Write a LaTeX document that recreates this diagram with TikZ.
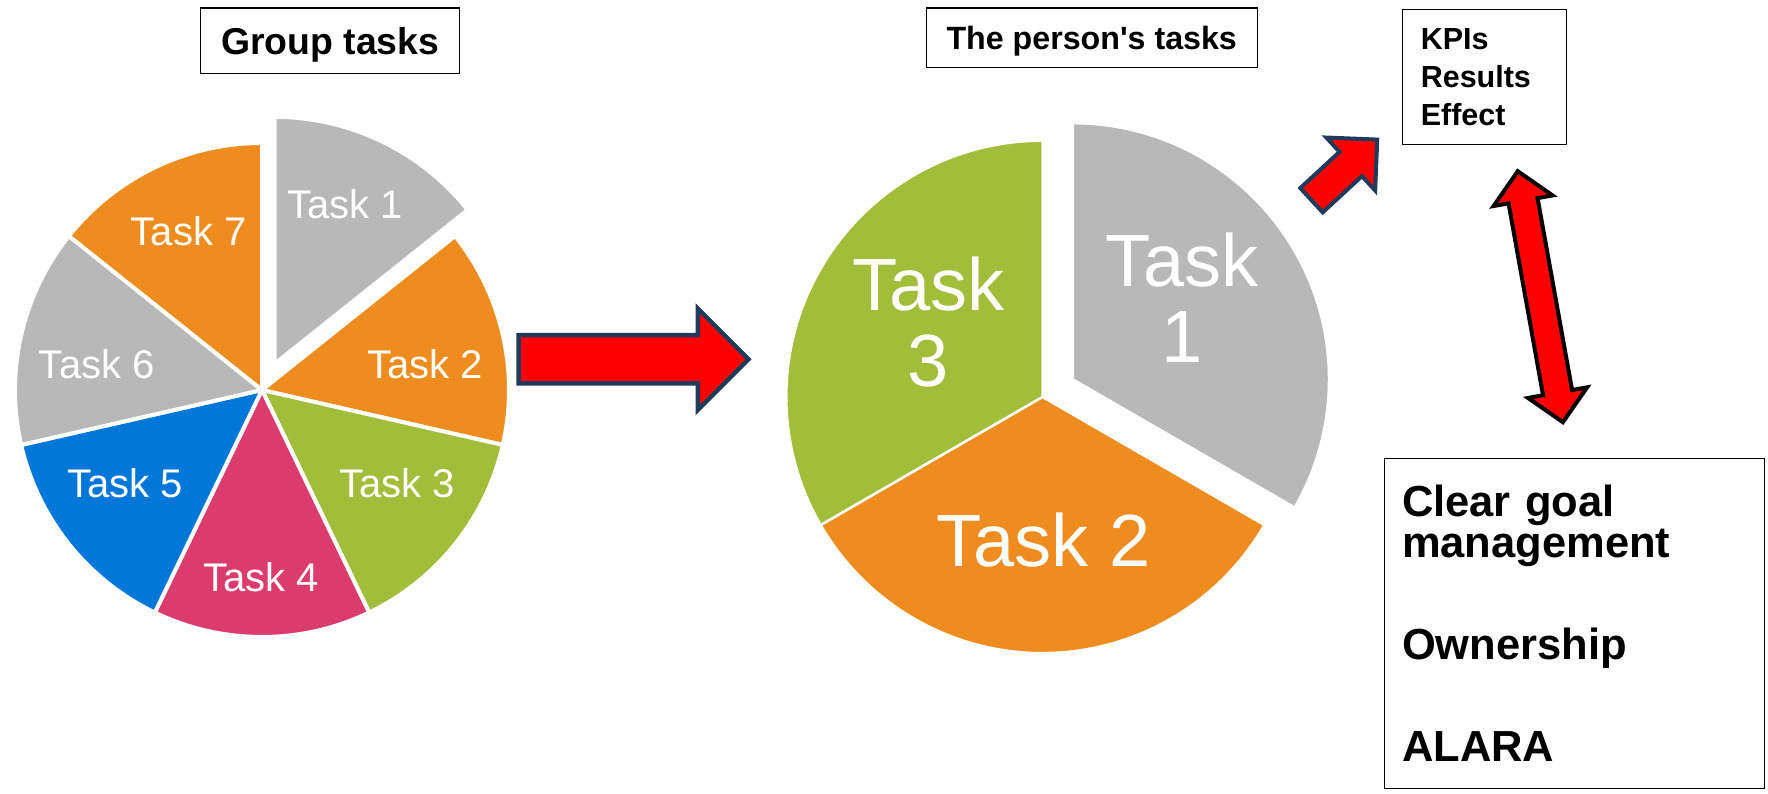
\documentclass[tikz,border=0pt]{standalone}
\usepackage{fontspec}
\setmainfont{Liberation Sans}[Ligatures=TeXOff]
\usepackage{tikz}
\usetikzlibrary{shapes.arrows}

\definecolor{taskgray}{HTML}{B8B8B8}
\definecolor{taskorange}{HTML}{EE8C1F}
\definecolor{taskgreen}{HTML}{A2BD39}
\definecolor{taskpink}{HTML}{DC3B6D}
\definecolor{taskblue}{HTML}{0277DA}
\definecolor{arrowred}{HTML}{FF0000}
\definecolor{arrownavy}{HTML}{1F3A5A}

\begin{document}
\begin{tikzpicture}[x=1pt,y=1pt,
    slice/.style={draw=white,line width=4pt,line join=round},
    lab/.style={text=white,font=\fontsize{40}{46}\selectfont,anchor=base,inner sep=0pt},
    big/.style={text=white,font=\fontsize{74}{75.8}\selectfont,align=center,inner sep=0pt},
    title/.style={draw,line width=1.3pt,text depth=0pt,inner sep=0pt},
    infobox/.style={draw,line width=1.3pt,align=left,inner ysep=0pt},
    blockarrow/.style={fill=arrowred,draw=arrownavy,line width=4.5pt,inner xsep=0pt,outer sep=0pt}]

  \useasboundingbox (0,0) rectangle (1768,794);

  % left pie
  \node[title,minimum width=259pt,minimum height=65.7pt,font=\fontsize{37.4}{44}\selectfont\bfseries] (G) at (330.2,753.1) {Group tasks};
  \coordinate (L) at (262,404);
  \foreach \i/\c in {2/taskorange,3/taskgreen,4/taskpink,5/taskblue,6/taskgray,7/taskorange}{
    \pgfmathsetmacro{\a}{90-(\i-1)*360/7}
    \pgfmathsetmacro{\b}{90-\i*360/7}
    \filldraw[slice,fill=\c] (L) -- ++(\a:247) arc[start angle=\a,end angle=\b,radius=247] -- cycle;
  }
  \filldraw[slice,fill=taskgray] ([shift={(12.6,26.1)}]L) -- ++(90:247) arc[start angle=90,end angle=38.5714,radius=247] -- cycle;

  \node[lab] (l1) at (345,575.3) {Task 1};
  \node[lab] (l2) at (425,415.4) {Task 2};
  \node[lab] (l3) at (397.1,296.2) {Task 3};
  \node[lab] (l4) at (261,202.5) {Task 4};
  \node[lab] (l5) at (125,296.2) {Task 5};
  \node[lab] (l6) at (96.8,415.4) {Task 6};
  \node[lab] (l7) at (188.6,548.5) {Task 7};

  % right pie
  \node[title,minimum width=331pt,minimum height=59.9pt,font=\fontsize{32.2}{38}\selectfont\bfseries] (P) at (1091.7,756.1) {The person's tasks};
  \coordinate (R) at (1042.5,397.1);
  \filldraw[slice,line width=2.5pt,fill=taskorange] (R) -- ++(-30:256.2) arc[start angle=-30,end angle=-150,radius=256.2] -- cycle;
  \filldraw[slice,line width=2.5pt,fill=taskgreen] (R) -- ++(90:256.2) arc[start angle=90,end angle=210,radius=256.2] -- cycle;
  \filldraw[slice,line width=2.5pt,fill=taskgray] ([shift={(30.3,17.5)}]R) -- ++(90:256.2) arc[start angle=90,end angle=-30,radius=256.2] -- cycle;

  \node[big] (r1) at (1182,496) {Task\\1};
  \node[big] (r3) at (928.2,471.9) {Task\\3};
  \node[big,anchor=base] (r2) at (1043.6,227) {Task 2};

  % boxes
  \node[infobox,minimum width=163.5pt,minimum height=135pt,text width=127.5pt,inner xsep=18pt,font=\fontsize{30.5}{38.3}\selectfont\bfseries] (K) at (1484.5,717) {KPIs\\Results\\Effect};
  \node[infobox,minimum width=380pt,minimum height=330pt,text width=345pt,inner xsep=17.5pt,font=\fontsize{43.5}{41}\selectfont\bfseries] (C) at (1574.5,170.4) {Clear goal\\management\\[61pt]Ownership\\[61pt]ALARA};

  % arrows
  \node[blockarrow,single arrow,inner ysep=21.9pt,single arrow head extend=26.6pt,minimum height=230pt,anchor=tip] (A1) at (748.5,434.7) {};
  \node[blockarrow,single arrow,line width=4pt,inner ysep=14.5pt,single arrow head extend=19.5pt,minimum height=89.4pt,rotate=42.7,anchor=tip] (A2) at (1377.2,654.4) {};
  \node[blockarrow,double arrow,draw=black,line width=4pt,inner ysep=12.75pt,double arrow head extend=15.25pt,minimum height=255pt,rotate=100.2] (A3) at (1540.3,497.3) {};
\end{tikzpicture}
\end{document}
